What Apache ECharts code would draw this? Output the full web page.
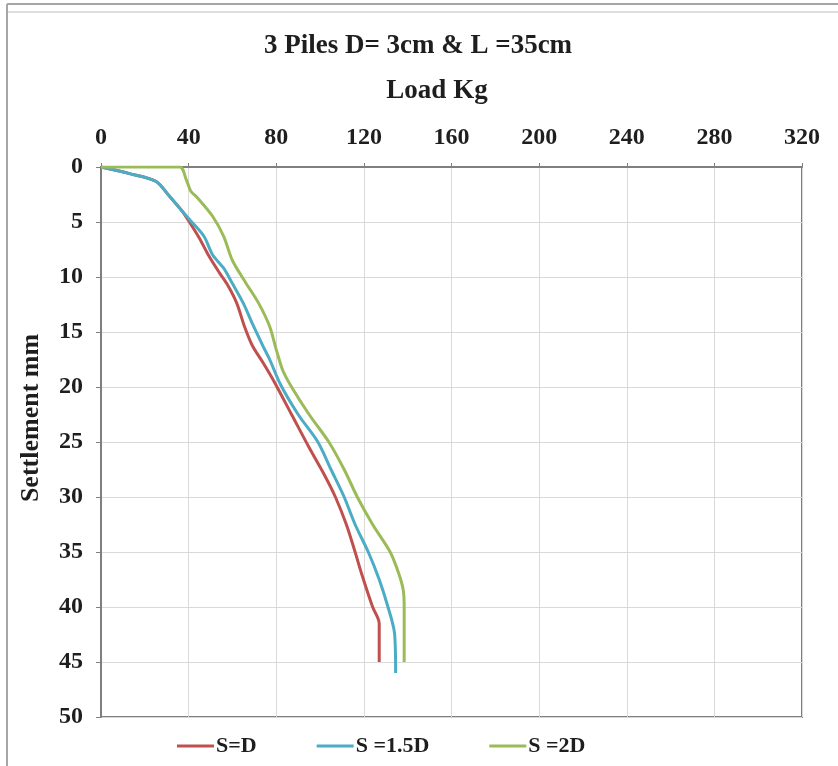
<!DOCTYPE html>
<html>
<head>
<meta charset="utf-8">
<title>3 Piles D= 3cm & L =35cm</title>
<script src="https://cdn.jsdelivr.net/npm/echarts@6/dist/echarts.min.js"></script>
<style>
  html, body { margin: 0; padding: 0; background: #ffffff; }
  #chart { width: 838px; height: 766px; }
</style>
</head>
<body>
<div id="chart"></div>
<script>
// Load (kg) vs settlement (mm) for three pile spacings
const chartTitle = '3 Piles D= 3cm & L =35cm';
const xName = 'Load Kg';
const yName = 'Settlement mm';
const seriesNames = ['S=D', 'S =1.5D', 'S =2D'];

// [load kg, settlement mm]
const spacingD = [
  [0, 0], [13, 0.6], [25, 1.3], [31, 2.6], [37, 4.0], [41, 5.2], [45, 6.5],
  [49, 8.0], [54, 9.6], [58, 10.8], [62, 12.4], [65.5, 14.5], [69, 16.2],
  [74, 17.8], [79, 19.5], [87, 22.5], [95, 25.5], [102, 28], [107, 30],
  [112, 32.5], [116, 35], [119, 37], [124, 40], [127, 41.5], [127, 45]
];
const spacing15D = [
  [0, 0], [13, 0.6], [25, 1.3], [31, 2.6], [37, 4.0], [41, 4.9], [47, 6.3],
  [51, 8.0], [56, 9.2], [60, 10.6], [65, 12.4], [69, 14.2], [74, 16.3],
  [77, 17.5], [82, 19.8], [90, 22.5], [99, 25], [105, 27.5], [111, 30],
  [116, 32.5], [122, 35], [127, 37.5], [131, 40], [134, 42.4], [134.5, 46]
];
const spacing2D = [
  [0, 0], [20, 0], [36, 0], [39, 1.2], [41, 2.2], [44, 2.8], [51, 4.5],
  [56, 6.3], [60, 8.5], [66, 10.5], [72, 12.4], [77, 14.5], [80, 16.6],
  [83, 18.5], [87, 20], [95, 22.5], [104, 25], [111, 27.5], [117, 30],
  [124, 32.5], [132, 35], [136, 37], [138, 38.5], [138.4, 40], [138.4, 45]
];

const colors = ['#C0504D', '#4BACC6', '#9BBB59'];
const serif = '"Liberation Serif", "Times New Roman", serif';
const textColor = '#1e1e1e';

const chart = echarts.init(document.getElementById('chart'), null, { renderer: 'canvas' });

function lineSeries(name, data, color) {
  return {
    name: name,
    type: 'line',
    data: data,
    smooth: 0.3,
    showSymbol: false,
    symbol: 'none',
    lineStyle: { color: color, width: 3 },
    itemStyle: { color: color },
    z: 3
  };
}

chart.setOption({
  animation: false,
  backgroundColor: '#ffffff',
  textStyle: { fontFamily: serif },
  grid: { left: 101, right: 36, top: 167, bottom: 49, containLabel: false,
          show: true, borderColor: '#7f7f7f', borderWidth: 2 },
  xAxis: {
    type: 'value', position: 'top', min: 0, max: 320, interval: 40,
    axisLine: { show: true, lineStyle: { color: '#7f7f7f', width: 2 } },
    axisTick: { show: true, inside: false, length: 4, lineStyle: { color: '#7f7f7f' } },
    axisLabel: { fontSize: 24, fontWeight: 'bold', fontFamily: serif, color: textColor, margin: 17 },
    splitLine: { show: true, lineStyle: { color: '#d9d9d9', width: 1 } }
  },
  yAxis: {
    type: 'value', inverse: true, min: 0, max: 50, interval: 5,
    axisLine: { show: true, lineStyle: { color: '#7f7f7f', width: 2 } },
    axisTick: { show: true, inside: false, length: 5, lineStyle: { color: '#7f7f7f' } },
    axisLabel: { fontSize: 24, fontWeight: 'bold', fontFamily: serif, color: textColor, margin: 18 },
    splitLine: { show: true, lineStyle: { color: '#d9d9d9', width: 1 } }
  },
  legend: {
    bottom: 4, left: 172,
    itemWidth: 37, itemHeight: 3, itemGap: 60,
    icon: 'rect',
    textStyle: { fontSize: 22, fontWeight: 'bold', fontFamily: serif, color: textColor, padding: [0, 0, 0, -3] },
    data: seriesNames
  },
  graphic: [
    { type: 'line', shape: { x1: 7, y1: 4, x2: 838, y2: 4 }, style: { stroke: '#a6a6a6', lineWidth: 2 }, silent: true },
    { type: 'line', shape: { x1: 7, y1: 4, x2: 7, y2: 766 }, style: { stroke: '#a6a6a6', lineWidth: 2 }, silent: true },
    { type: 'line', shape: { x1: 8, y1: 12, x2: 838, y2: 12 }, style: { stroke: '#dedede', lineWidth: 2 }, silent: true },
    { type: 'text', x: 418, y: 46, style: { text: chartTitle, font: 'bold 27px ' + serif, fill: textColor, textAlign: 'center', textVerticalAlign: 'middle' } },
    { type: 'text', x: 437, y: 91, style: { text: xName, font: 'bold 27px ' + serif, fill: textColor, textAlign: 'center', textVerticalAlign: 'middle' } },
    { type: 'text', x: 31, y: 418, rotation: Math.PI / 2, style: { text: yName, font: 'bold 26px ' + serif, fill: textColor, textAlign: 'center', textVerticalAlign: 'middle' } }
  ],
  series: [
    lineSeries(seriesNames[0], spacingD, colors[0]),
    lineSeries(seriesNames[1], spacing15D, colors[1]),
    lineSeries(seriesNames[2], spacing2D, colors[2])
  ]
});
</script>
</body>
</html>
